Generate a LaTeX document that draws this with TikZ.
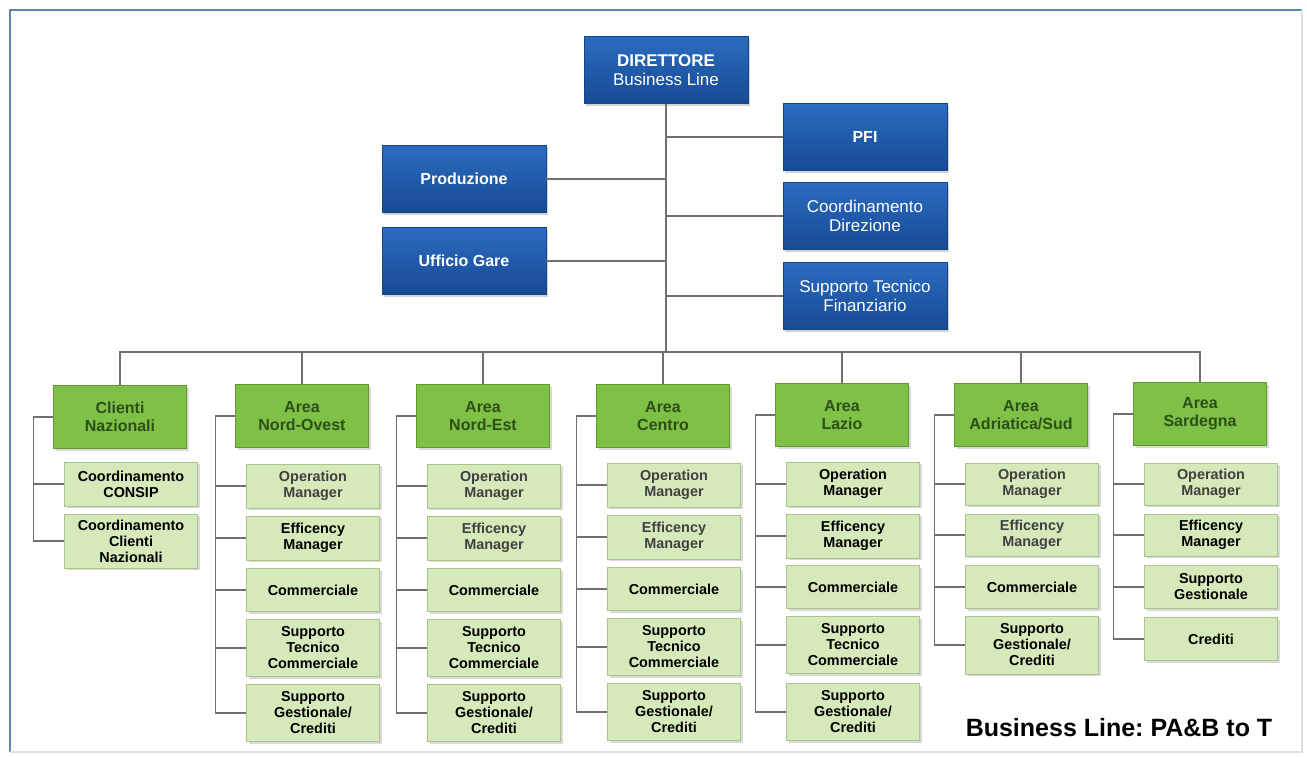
\documentclass[tikz,border=0pt]{standalone}
\usepackage{fontspec}
\setmainfont{Liberation Sans}
\usetikzlibrary{shadows}
\frenchspacing

\definecolor{bluetop}{HTML}{2B6CC0}
\definecolor{bluebot}{HTML}{174A94}
\definecolor{blueedge}{HTML}{164585}
\definecolor{areagreen}{HTML}{7FC046}
\definecolor{areaedge}{HTML}{5E9A30}
\definecolor{areatext}{HTML}{2C4F1A}
\definecolor{subgreen}{HTML}{D6E9BA}
\definecolor{subedge}{HTML}{A9C58A}
\definecolor{linkgray}{HTML}{707070}
\definecolor{framblue}{HTML}{5A86B5}

\tikzset{
  staff/.style={draw=blueedge, top color=bluetop, bottom color=bluebot,
    text=white, align=center, minimum width=82pt, minimum height=33.5pt,
    inner sep=1pt, font=\fontsize{8.5}{9.5}\selectfont,
    drop shadow={shadow xshift=1pt, shadow yshift=-1pt, opacity=0.35}},
  area/.style={draw=areaedge, fill=areagreen, text=areatext, align=center,
    minimum width=66.5pt, minimum height=31.5pt, inner sep=1pt,
    font=\fontsize{8}{9}\selectfont\bfseries,
    drop shadow={shadow xshift=1pt, shadow yshift=-1pt, opacity=0.3}},
  unit/.style={draw=subedge, fill=subgreen, text=black, align=center,
    minimum width=66.5pt, inner sep=1pt,
    font=\fontsize{7.2}{8}\selectfont\bfseries,
    drop shadow={shadow xshift=1pt, shadow yshift=-1pt, opacity=0.3}},
  faded/.style={text=black!75},
  link/.style={draw=linkgray, line width=0.6pt}
}

\begin{document}
\begin{tikzpicture}[x=0.5pt, y=-0.5pt]

      \useasboundingbox (0,0) rectangle (1307,756);
      \draw[framblue, line width=1.2pt] (10,752) -- (10,10) -- (1302,10);
      \draw[black!12, line width=0.6pt] (1302,10) -- (1302,752) -- (10,752);

      % direzione
      \node[staff] (dir) at (666,70) {\textbf{DIRETTORE}\\Business Line};
      \node[staff, font=\fontsize{8}{9}\selectfont\bfseries] (pfi)  at (865,137) {PFI};
      \node[staff] (cdir) at (865,216) {Coordinamento\\Direzione};
      \node[staff] (stf)  at (865,296) {Supporto Tecnico\\Finanziario};
      \node[staff, font=\fontsize{8}{9}\selectfont\bfseries] (prod) at (464,179) {Produzione};
      \node[staff, font=\fontsize{8}{9}\selectfont\bfseries] (gare) at (464,261) {Ufficio Gare};
      \coordinate (bus) at (666,352);

      % aree
      \node[area] (cn) at (120,417)  {Clienti\\Nazionali};
      \node[area] (no) at (302,416)  {Area\\Nord-Ovest};
      \node[area] (ne) at (483,416)  {Area\\Nord-Est};
      \node[area] (ce) at (663,416)  {Area\\Centro};
      \node[area] (la) at (842,415)  {Area\\Lazio};
      \node[area] (as) at (1021,415) {Area\\Adriatica/Sud};
      \node[area] (sa) at (1200,414) {Area\\Sardegna};

      \begin{scope}[every node/.append style={unit}]
        % Clienti Nazionali
        \node[minimum height=22pt] (cn1) at (131,484) {Coordinamento\\CONSIP};
        \node[minimum height=27pt] (cn2) at (131,541) {Coordinamento\\Clienti\\Nazionali};
        % Nord-Ovest
        \node[minimum height=22pt, faded] (no1) at (313,486) {Operation\\Manager};
        \node[minimum height=22pt] (no2) at (313,538) {Efficency\\Manager};
        \node[minimum height=21.5pt] (no3) at (313,590) {Commerciale};
        \node[minimum height=28.5pt] (no4) at (313,648) {Supporto\\Tecnico\\Commerciale};
        \node[minimum height=28.5pt] (no5) at (313,713) {Supporto\\Gestionale/\\Crediti};
        % Nord-Est
        \node[minimum height=22pt, faded] (ne1) at (494,486) {Operation\\Manager};
        \node[minimum height=22pt, faded] (ne2) at (494,538) {Efficency\\Manager};
        \node[minimum height=21.5pt] (ne3) at (494,590) {Commerciale};
        \node[minimum height=28.5pt] (ne4) at (494,648) {Supporto\\Tecnico\\Commerciale};
        \node[minimum height=28.5pt] (ne5) at (494,713) {Supporto\\Gestionale/\\Crediti};
        % Centro
        \node[minimum height=22pt, faded] (ce1) at (674,485) {Operation\\Manager};
        \node[minimum height=22pt, faded] (ce2) at (674,537) {Efficency\\Manager};
        \node[minimum height=21.5pt] (ce3) at (674,589) {Commerciale};
        \node[minimum height=28.5pt] (ce4) at (674,647) {Supporto\\Tecnico\\Commerciale};
        \node[minimum height=28.5pt] (ce5) at (674,712) {Supporto\\Gestionale/\\Crediti};
        % Lazio
        \node[minimum height=22pt] (la1) at (853,484) {Operation\\Manager};
        \node[minimum height=22pt] (la2) at (853,536) {Efficency\\Manager};
        \node[minimum height=21.5pt] (la3) at (853,587) {Commerciale};
        \node[minimum height=28.5pt] (la4) at (853,645) {Supporto\\Tecnico\\Commerciale};
        \node[minimum height=28.5pt] (la5) at (853,712) {Supporto\\Gestionale/\\Crediti};
        % Adriatica/Sud
        \node[minimum height=21pt, faded] (as1) at (1032,484) {Operation\\Manager};
        \node[minimum height=21pt, faded] (as2) at (1032,535) {Efficency\\Manager};
        \node[minimum height=21.5pt] (as3) at (1032,587) {Commerciale};
        \node[minimum height=29pt] (as4) at (1032,645) {Supporto\\Gestionale/\\Crediti};
        % Sardegna
        \node[minimum height=21pt, faded] (sa1) at (1211,484) {Operation\\Manager};
        \node[minimum height=21pt] (sa2) at (1211,535) {Efficency\\Manager};
        \node[minimum height=21.5pt] (sa3) at (1211,587) {Supporto\\Gestionale};
        \node[minimum height=21.5pt] (sa4) at (1211,639) {Crediti};
      \end{scope}

      \node[font=\fontsize{12.5}{14}\selectfont\bfseries] (tag) at (1119,728) {Business Line: PA\&B to T};

      \begin{scope}[every path/.style={link}]
        % tronco e staff
        \path (dir.south) edge (bus);
        \path (pfi.west)  edge (pfi.west -| dir.south);
        \path (cdir.west) edge (cdir.west -| dir.south);
        \path (stf.west)  edge (stf.west -| dir.south);
        \path (prod.east) edge (prod.east -| dir.south);
        \path (gare.east) edge (gare.east -| dir.south);
        % barra orizzontale
        \draw (cn.north) -- (cn.north |- bus) -- (sa.north |- bus) -- (sa.north);
        \path (no.north) edge (no.north |- bus);
        \path (ne.north) edge (ne.north |- bus);
        \path (ce.north) edge (ce.north |- bus);
        \path (la.north) edge (la.north |- bus);
        \path (as.north) edge (as.north |- bus);
        % rami laterali
        \draw (cn.west) -- ++(-20,0) coordinate (cnr) |- (cn2.west);
        \path (cn1.west) edge (cn1.west -| cnr);
        \draw (no.west) -- ++(-20,0) coordinate (nor) |- (no5.west);
        \path (no1.west) edge (no1.west -| nor);
        \path (no2.west) edge (no2.west -| nor);
        \path (no3.west) edge (no3.west -| nor);
        \path (no4.west) edge (no4.west -| nor);
        \draw (ne.west) -- ++(-20,0) coordinate (ner) |- (ne5.west);
        \path (ne1.west) edge (ne1.west -| ner);
        \path (ne2.west) edge (ne2.west -| ner);
        \path (ne3.west) edge (ne3.west -| ner);
        \path (ne4.west) edge (ne4.west -| ner);
        \draw (ce.west) -- ++(-20,0) coordinate (cer) |- (ce5.west);
        \path (ce1.west) edge (ce1.west -| cer);
        \path (ce2.west) edge (ce2.west -| cer);
        \path (ce3.west) edge (ce3.west -| cer);
        \path (ce4.west) edge (ce4.west -| cer);
        \draw (la.west) -- ++(-20,0) coordinate (lar) |- (la5.west);
        \path (la1.west) edge (la1.west -| lar);
        \path (la2.west) edge (la2.west -| lar);
        \path (la3.west) edge (la3.west -| lar);
        \path (la4.west) edge (la4.west -| lar);
        \draw (as.west) -- ++(-20,0) coordinate (asr) |- (as4.west);
        \path (as1.west) edge (as1.west -| asr);
        \path (as2.west) edge (as2.west -| asr);
        \path (as3.west) edge (as3.west -| asr);
        \draw (sa.west) -- ++(-20,0) coordinate (sar) |- (sa4.west);
        \path (sa1.west) edge (sa1.west -| sar);
        \path (sa2.west) edge (sa2.west -| sar);
        \path (sa3.west) edge (sa3.west -| sar);
      \end{scope}

    \end{tikzpicture}
\end{document}
